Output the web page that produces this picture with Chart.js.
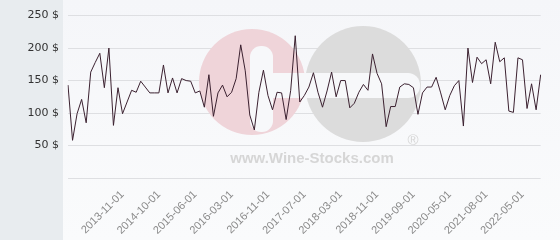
<!DOCTYPE html>
<html lang="en">
<head>
    <meta charset="UTF-8">
    <title>Wine price history</title>
    <script src="https://cdn.jsdelivr.net/npm/chart.js"></script>
    <style>
        html, body {
            margin: 0;
            padding: 0;
            width: 560px;
            height: 240px;
            overflow: hidden;
            background: linear-gradient(#f5f6f9, #fafbfc);
        }
        /* grey strip behind the y labels */
        .side {
            position: absolute;
            left: 0;
            top: 0;
            width: 63px;
            height: 240px;
            background: #e8ecef;
        }
        .wrap {
            position: absolute;
            left: 0;
            top: 0;
            width: 560px;
            height: 240px;
        }
    </style>
</head>
<body>
    <div class="side"></div>
    <div class="wrap"><canvas id="priceChart"></canvas></div>

    <script>
        const dates = [
            '2012-11-01', '2012-12-01', '2013-01-01', '2013-02-01', '2013-03-01', '2013-04-01', '2013-05-01',
            '2013-06-01', '2013-07-01', '2013-08-01', '2013-09-01', '2013-10-01', '2013-11-01', '2013-12-01',
            '2014-01-01', '2014-02-01', '2014-04-01', '2014-05-01', '2014-07-01', '2014-08-01', '2014-10-01',
            '2014-11-01', '2014-12-01', '2015-01-01', '2015-02-01', '2015-03-01', '2015-04-01', '2015-05-01',
            '2015-06-01', '2015-07-01', '2015-08-01', '2015-09-01', '2015-10-01', '2015-11-01', '2015-12-01',
            '2016-02-01', '2016-03-01', '2016-04-01', '2016-05-01', '2016-06-01', '2016-07-01', '2016-08-01',
            '2016-09-01', '2016-10-01', '2016-11-01', '2016-12-01', '2017-01-01', '2017-02-01', '2017-03-01',
            '2017-04-01', '2017-05-01', '2017-06-01', '2017-07-01', '2017-08-01', '2017-09-01', '2017-10-01',
            '2017-11-01', '2017-12-01', '2018-01-01', '2018-02-01', '2018-03-01', '2018-04-01', '2018-05-01',
            '2018-06-01', '2018-07-01', '2018-08-01', '2018-09-01', '2018-10-01', '2018-11-01', '2018-12-01',
            '2019-01-01', '2019-02-01', '2019-04-01', '2019-05-01', '2019-06-01', '2019-08-01', '2019-09-01',
            '2019-10-01', '2019-11-01', '2019-12-01', '2020-01-01', '2020-02-01', '2020-03-01', '2020-04-01',
            '2020-05-01', '2020-07-01', '2020-09-01', '2020-11-01', '2021-01-01', '2021-03-01', '2021-04-01',
            '2021-06-01', '2021-08-01', '2021-09-01', '2021-10-01', '2021-11-01', '2021-12-01', '2022-01-01',
            '2022-02-01', '2022-04-01', '2022-05-01', '2022-06-01', '2022-07-01', '2022-08-01', '2022-09-01'
        ];

        const prices = [
            143, 58, 99, 121, 85, 163, 178, 192, 139, 200, 81, 139, 99, 117, 135,
            132, 149, 140, 131, 131, 131, 174, 131, 154, 131, 153, 150, 149, 131, 134,
            109, 159, 95, 131, 143, 125, 132, 153, 205, 165, 97, 74, 132, 166, 127,
            105, 132, 131, 90, 135, 219, 117, 127, 140, 162, 132, 109, 134, 163, 125,
            150, 150, 108, 115, 132, 144, 135, 191, 161, 145, 79, 110, 110, 140, 145,
            144, 139, 98, 131, 140, 140, 155, 131, 105, 127, 142, 150, 80, 200, 147,
            186, 176, 182, 145, 209, 179, 185, 103, 101, 185, 182, 107, 145, 105, 159
        ];

        const yTicks = [0, 50, 100, 150, 200, 250];
        const firstShownTick = 12;
        const tickEvery = 8;

        // faint logo behind the line
        const watermark = {
            id: 'watermark',
            beforeDatasetsDraw(chart) {
                const ctx = chart.ctx;
                const bg = '#f7f8fa';
                ctx.save();

                ctx.fillStyle = '#efd4d9';
                ctx.beginPath();
                ctx.arc(252, 82, 53, 0, Math.PI * 2);
                ctx.fill();

                ctx.fillStyle = '#dcdcdc';
                ctx.beginPath();
                ctx.arc(363, 84, 58, 0, Math.PI * 2);
                ctx.fill();

                ctx.fillStyle = bg;
                ctx.beginPath();
                ctx.roundRect(250, 46, 23, 86, 11);
                ctx.fill();
                ctx.beginPath();
                ctx.roundRect(262, 73, 158, 25, 12);
                ctx.fill();

                ctx.fillStyle = '#d6d6d6';
                ctx.font = 'bold 15px "Liberation Sans", Arial, sans-serif';
                ctx.textAlign = 'center';
                ctx.textBaseline = 'alphabetic';
                ctx.fillText('www.Wine-Stocks.com', 312, 163);
                ctx.font = '15px "Liberation Sans", Arial, sans-serif';
                ctx.fillText('®', 413, 145);

                ctx.restore();
            }
        };

        const ctx = document.getElementById('priceChart').getContext('2d');
        new Chart(ctx, {
            type: 'line',
            data: {
                labels: dates,
                datasets: [{
                    data: prices,
                    borderColor: '#3b2130',
                    borderWidth: 1,
                    pointRadius: 0,
                    tension: 0,
                    fill: false
                }]
            },
            options: {
                responsive: true,
                maintainAspectRatio: false,
                animation: false,
                layout: {
                    padding: { top: 15, right: 5, left: 0, bottom: 0 }
                },
                plugins: {
                    legend: { display: false },
                    tooltip: { enabled: false }
                },
                scales: {
                    x: {
                        offset: false,
                        grid: { display: false, drawTicks: false },
                        border: { display: false },
                        afterFit(scale) { scale.height = 62; },
                        ticks: {
                            autoSkip: false,
                            minRotation: 45,
                            maxRotation: 45,
                            padding: 10,
                            color: '#8a8a8a',
                            font: { family: '"Liberation Sans", Arial, sans-serif', size: 11 },
                            callback(value, index) {
                                if (index >= firstShownTick && (index - firstShownTick) % tickEvery === 0) {
                                    return dates[index];
                                }
                                return '';
                            }
                        }
                    },
                    y: {
                        min: yTicks[0],
                        max: yTicks[yTicks.length - 1],
                        afterFit(scale) { scale.width = 68; },
                        afterBuildTicks(scale) {
                            scale.ticks = yTicks.map(v => ({ value: v }));
                        },
                        grid: { color: '#dedfe2', drawTicks: false },
                        border: { display: false },
                        ticks: {
                            padding: 9,
                            color: '#333',
                            font: { family: '"DejaVu Sans", sans-serif', size: 11 },
                            callback(value) {
                                return value === 0 ? '' : value + ' $';
                            }
                        }
                    }
                }
            },
            plugins: [watermark]
        });
    </script>
</body>
</html>
